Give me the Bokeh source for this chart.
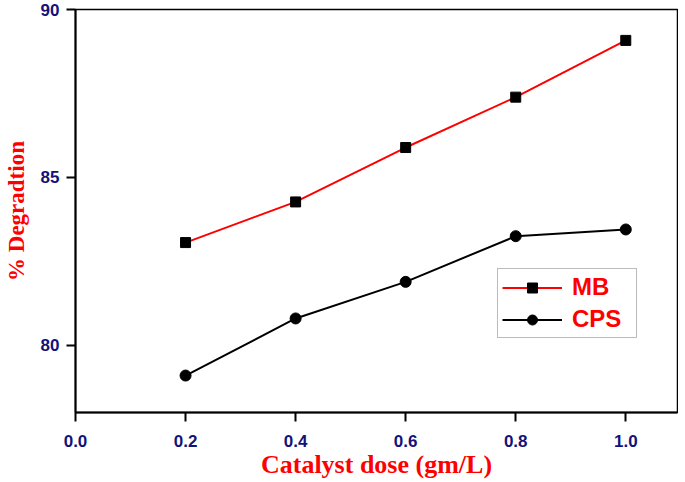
from bokeh.plotting import figure
from bokeh.models import Range1d, FixedTicker
from bokeh.embed import file_html
from bokeh.resources import INLINE

dose = [0.2, 0.4, 0.6, 0.8, 1.0]
mb = [83.06, 84.27, 85.89, 87.39, 89.08]
cps = [79.10, 80.80, 81.89, 83.25, 83.45]
x_ticks = [0.0, 0.2, 0.4, 0.6, 0.8, 1.0]
y_ticks = [80, 85, 90]

p = figure(width=678, height=481, output_backend="svg", toolbar_location=None,
           x_range=Range1d(0, 1.094), y_range=Range1d(78, 90),
           min_border_left=75, min_border_top=9, min_border_right=1, min_border_bottom=62)

p.line(dose, mb, color="red", line_width=2, legend_label="MB")
p.scatter(dose, mb, marker="square", size=10, color="black", legend_label="MB")
p.line(dose, cps, color="black", line_width=2, legend_label="CPS")
p.scatter(dose, cps, marker="circle", size=11, color="black", legend_label="CPS")

p.grid.visible = False
p.outline_line_color = "black"
p.outline_line_width = 1.5

for ax in (p.xaxis[0], p.yaxis[0]):
    ax.axis_line_width = 2
    ax.axis_line_color = "black"
    ax.major_tick_line_width = 2
    ax.major_tick_in = 0
    ax.major_tick_out = 9
    ax.minor_tick_line_color = None
    ax.major_label_text_font = "Liberation Sans"
    ax.major_label_text_font_style = "bold"
    ax.major_label_text_font_size = "17px"
    ax.major_label_text_color = "#12127a"
    ax.axis_label_text_font = "Liberation Serif"
    ax.axis_label_text_font_style = "bold"
    ax.axis_label_text_font_size = "23px"
    ax.axis_label_text_color = "red"

p.xaxis[0].axis_label_text_font_size = "26px"
p.xaxis[0].ticker = FixedTicker(ticks=x_ticks)
p.xaxis[0].major_label_overrides = {t: f"{t:.1f}" for t in x_ticks}
p.yaxis[0].ticker = FixedTicker(ticks=y_ticks)
p.xaxis[0].axis_label = "Catalyst dose (gm/L)"
p.yaxis[0].axis_label = "% Degradtion"
p.xaxis[0].axis_label_standoff = 0
p.yaxis[0].axis_label_standoff = 9
p.xaxis[0].major_label_standoff = 13
p.yaxis[0].major_label_standoff = 7

lg = p.legend[0]
lg.location = (422, 74)
lg.border_line_color = "#777777"
lg.border_line_width = 1
lg.background_fill_alpha = 1
lg.label_text_font = "Liberation Sans"
lg.label_text_font_style = "bold"
lg.label_text_font_size = "24px"
lg.label_text_color = "red"
lg.glyph_width = 60
lg.glyph_height = 25
lg.label_height = 25
lg.label_width = 60
lg.spacing = 4
lg.padding = 4
lg.margin = 0
lg.label_standoff = 10

open("out.html", "w").write(file_html(p, INLINE))
